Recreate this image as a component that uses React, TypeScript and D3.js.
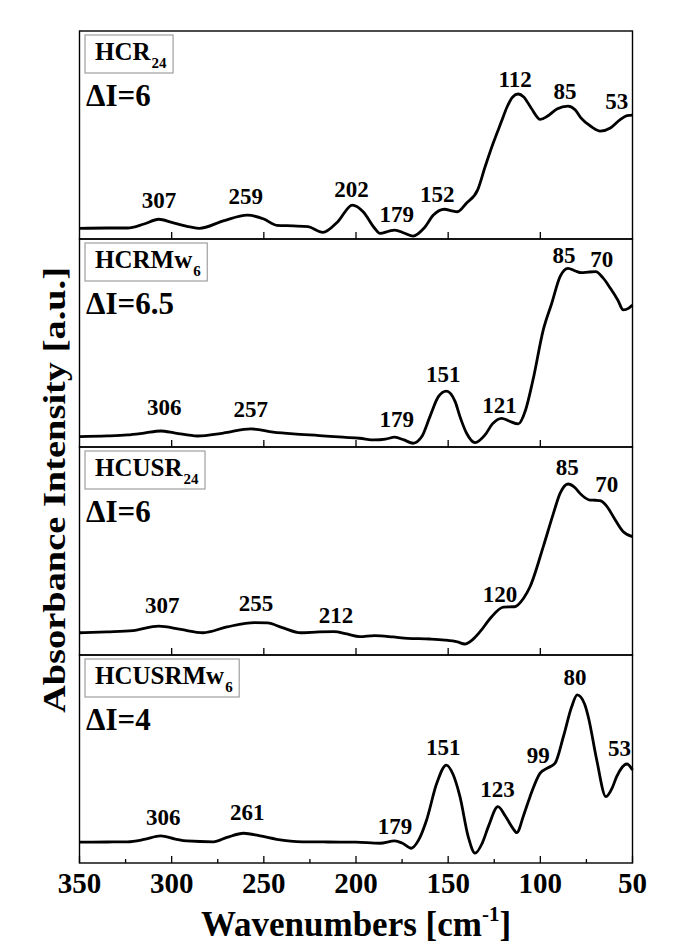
import React, { useEffect, useRef } from "react";
import * as d3 from "d3";

const WIDTH = 673;
const HEIGHT = 947;
const FONT = "'Liberation Serif', 'Times New Roman', Times, serif";

// Wavenumber axis (cm-1), drawn high to low
const majorTicks = [350, 300, 250, 200, 150, 100, 50];
const minorTicks = [325, 275, 225, 175, 125, 75];

type Pt = [number, number];
type Peak = [string, number, number]; // label, wavenumber, label height (a.u.)

// Far-IR absorbance spectra: [wavenumber, intensity a.u.]
const hcr24: Pt[] = [
  [350, 0.51], [335, 0.53], [324, 0.53], [315, 0.72], [307, 0.95], [300, 0.8], [290, 0.58],
  [285, 0.51], [272, 0.87], [259, 1.15], [250, 0.96], [243, 0.66], [234, 0.63], [226, 0.59],
  [218, 0.32], [210, 0.82], [202, 1.63], [196, 1.3], [190, 0.53], [187, 0.27], [182, 0.38],
  [179, 0.43], [174, 0.29], [169, 0.14], [163, 0.53], [158, 1.15], [152, 1.43], [148, 1.35],
  [145, 1.31], [140, 1.73], [134, 2.36], [130, 3.46], [125.6, 4.6], [121, 5.67], [118, 6.36],
  [115, 6.83], [112, 6.97], [109, 6.83], [105, 6.3], [100, 5.75], [96, 5.91], [91, 6.25],
  [85, 6.39], [81, 6.2], [78, 5.82], [72, 5.38], [67.6, 5.19], [62, 5.34], [57, 5.72],
  [53, 5.93], [50, 5.96],
];
const hcrMw6: Pt[] = [
  [350, 0.5], [335, 0.53], [324, 0.58], [315, 0.67], [306, 0.77], [298, 0.67], [286, 0.53],
  [272, 0.67], [257, 0.87], [245, 0.72], [234, 0.63], [220, 0.55], [207, 0.47], [198, 0.42],
  [190, 0.34], [184, 0.38], [179, 0.47], [174, 0.34], [169, 0.18], [164.3, 0.5], [159.9, 1.46],
  [155.3, 2.42], [151, 2.69], [146.2, 2.18], [143.6, 1.46], [140, 0.66], [135.4, 0.21],
  [130, 0.58], [126, 1.11], [121, 1.38], [117, 1.25], [112, 1.11], [108, 1.78], [104, 3.22],
  [98.4, 5.63], [93.8, 6.91], [89.3, 8.19], [85, 8.59], [81, 8.46], [77.6, 8.38], [74, 8.41],
  [70, 8.43], [66, 8.13], [62, 7.63], [58, 7.07], [55, 6.59], [52, 6.68], [50, 6.83],
];
const hcusr24: Pt[] = [
  [350, 1.07], [335, 1.11], [321, 1.17], [307, 1.39], [295, 1.23], [283, 1.07], [270, 1.35],
  [255, 1.56], [248, 1.54], [240, 1.32], [230, 1.07], [220, 1.11], [212, 1.12], [205, 1.01],
  [198, 0.88], [190, 0.93], [180, 0.87], [172, 0.8], [160, 0.77], [152, 0.72], [145, 0.63],
  [141, 0.53], [137, 0.72], [132.7, 1.12], [127, 1.78], [120, 2.3], [114, 2.32], [109, 2.74],
  [105.6, 3.28], [98.4, 5.21], [92.9, 6.81], [89.3, 7.77], [85, 8.22], [81, 8.03],
  [78.5, 7.77], [73.1, 7.45], [70, 7.44], [67.6, 7.42], [64, 7.16], [60.4, 6.65], [55, 5.93],
  [50, 5.69],
];
const hcusrMw6: Pt[] = [
  [350, 1.0], [335, 1.01], [324, 1.02], [315, 1.13], [306, 1.3], [298, 1.15], [291.8, 1.06],
  [277.4, 1.02], [270, 1.23], [261, 1.43], [252, 1.3], [243, 1.14], [229, 1.02], [215, 1.01],
  [200, 1.0], [187, 0.95], [179, 1.06], [175, 0.96], [170, 0.71], [166, 1.11], [161.7, 2.07],
  [156.2, 3.83], [151, 4.71], [147.2, 4.23], [143.6, 3.19], [139.1, 1.26], [135.4, 0.47],
  [131.5, 0.96], [128.2, 1.75], [123, 2.71], [119, 2.26], [115, 1.68], [112.8, 1.46],
  [109, 2.31], [105.6, 3.19], [100.2, 4.31], [96, 4.57], [92, 4.8], [87.5, 6.07], [83, 7.51],
  [80, 8.08], [76, 7.64], [74, 7.03], [69.4, 4.95], [64.4, 3.19], [61, 3.61], [58.6, 4.15],
  [53, 4.76], [50, 4.47],
];

// Peak annotations
const hcr24Peaks: Peak[] = [
  ["307", 306.9, 1.49], ["259", 259.8, 1.68], ["202", 202.4, 2.03], ["179", 177.9, 0.83],
  ["152", 155.9, 1.79], ["112", 113.7, 7.29], ["85", 86.6, 6.72], ["53", 58.6, 6.24],
];
const hcrMw6Peaks: Peak[] = [
  ["306", 304, 1.54], ["257", 257.1, 1.46], ["179", 177.9, 0.98], ["151", 152.6, 3.14],
  ["121", 122.2, 1.65], ["85", 87.2, 8.83], ["70", 66.7, 8.64],
];
const hcusr24Peaks: Peak[] = [
  ["307", 305.1, 2.03], ["255", 254.2, 2.13], ["212", 210.8, 1.55], ["120", 121.9, 2.56],
  ["85", 85.4, 8.65], ["70", 64, 7.85],
];
const hcusrMw6Peaks: Peak[] = [
  ["306", 304.5, 1.83], ["261", 259, 2.07], ["179", 178.8, 1.39], ["151", 152.6, 5.19],
  ["123", 123.3, 3.19], ["99", 101.1, 4.82], ["80", 81.2, 8.56], ["53", 57.1, 5.14],
];

const sampleNames = ["HCR", "HCRMw", "HCUSR", "HCUSRMw"];
const sampleSubs = ["24", "6", "24", "6"];
const deltaLabels = ["ΔI=6", "ΔI=6.5", "ΔI=6", "ΔI=4"];
const spectra = [hcr24, hcrMw6, hcusr24, hcusrMw6];
const peakSets = [hcr24Peaks, hcrMw6Peaks, hcusr24Peaks, hcusrMw6Peaks];

export default function App() {
  const ref = useRef<SVGSVGElement | null>(null);

  useEffect(() => {
    const svg = d3.select(ref.current);
    svg.selectAll("*").remove();

    const left = 79.5;
    const right = 632.5;
    const top = 31;
    const panelH = 208;

    const x = d3.scaleLinear().domain([350, 50]).range([left, right]);

    spectra.forEach((data, i) => {
      const pTop = top + i * panelH;
      const pBottom = pTop + panelH;
      const y = d3.scaleLinear().domain([0, 10]).range([pBottom, pTop]);
      const g = svg.append("g");

      // frame
      g.append("rect")
        .attr("x", left)
        .attr("y", pTop)
        .attr("width", right - left)
        .attr("height", panelH)
        .attr("fill", "none")
        .attr("stroke", "#000")
        .attr("stroke-width", 1.4);

      // inward ticks on the lower edge
      const isLast = i === spectra.length - 1;
      const majors = isLast ? majorTicks : majorTicks.slice(1, -1);
      g.selectAll(".maj")
        .data(majors)
        .join("line")
        .attr("x1", (d) => x(d))
        .attr("x2", (d) => x(d))
        .attr("y1", pBottom)
        .attr("y2", pBottom - 7)
        .attr("stroke", "#000")
        .attr("stroke-width", 1.3);
      if (isLast) {
        g.selectAll(".min")
          .data(minorTicks)
          .join("line")
          .attr("x1", (d) => x(d))
          .attr("x2", (d) => x(d))
          .attr("y1", pBottom)
          .attr("y2", pBottom - 4)
          .attr("stroke", "#000")
          .attr("stroke-width", 1.3);
      }

      // spectrum
      const line = d3
        .line<Pt>()
        .x((d) => x(d[0]))
        .y((d) => y(d[1]))
        .curve(d3.curveMonotoneX);
      g.append("path")
        .attr("d", line(data) || "")
        .attr("fill", "none")
        .attr("stroke", "#000")
        .attr("stroke-width", 2.8)
        .attr("stroke-linejoin", "round");

      // peak positions
      g.selectAll(".peak")
        .data(peakSets[i])
        .join("text")
        .attr("x", (d) => x(d[1]))
        .attr("y", (d) => y(d[2]))
        .attr("text-anchor", "middle")
        .attr("font-family", FONT)
        .attr("font-weight", "bold")
        .attr("font-size", 23)
        .attr("fill", "#000")
        .text((d) => d[0]);

      // sample name box
      const nameText = g
        .append("text")
        .attr("x", 95)
        .attr("y", pTop + 29)
        .attr("font-family", FONT)
        .attr("font-weight", "bold")
        .attr("font-size", 25)
        .attr("fill", "#000");
      nameText.append("tspan").text(sampleNames[i]);
      nameText
        .append("tspan")
        .attr("font-size", 15)
        .attr("dx", 1)
        .attr("dy", 8)
        .text(sampleSubs[i]);
      const bb = (nameText.node() as SVGTextElement).getBBox();
      g.insert("rect", "text")
        .attr("x", 85)
        .attr("y", pTop + 4)
        .attr("width", bb.x + bb.width + 6 - 85)
        .attr("height", 38)
        .attr("fill", "#fff")
        .attr("stroke", "#8c8c8c")
        .attr("stroke-width", 1);

      // intensity difference label
      g.append("text")
        .attr("x", 86)
        .attr("y", pTop + 75)
        .attr("font-family", FONT)
        .attr("font-weight", "bold")
        .attr("font-size", 31)
        .attr("fill", "#000")
        .text(deltaLabels[i]);
    });

    // x tick labels
    svg
      .append("g")
      .selectAll("text")
      .data(majorTicks)
      .join("text")
      .attr("x", (d) => x(d))
      .attr("y", 893)
      .attr("text-anchor", "middle")
      .attr("font-family", FONT)
      .attr("font-weight", "bold")
      .attr("font-size", 29)
      .attr("fill", "#000")
      .text((d) => String(d));

    // x axis title
    const xt = svg
      .append("text")
      .attr("x", (left + right) / 2)
      .attr("y", 936)
      .attr("text-anchor", "middle")
      .attr("font-family", FONT)
      .attr("font-weight", "bold")
      .attr("font-size", 35)
      .attr("fill", "#000");
    xt.append("tspan").text("Wavenumbers [cm");
    xt.append("tspan").attr("font-size", 21).attr("dy", -15).text("-1");
    xt.append("tspan").attr("dy", 15).text("]");

    // y axis title
    svg
      .append("text")
      .attr("transform", "translate(65,490) rotate(-90)")
      .attr("text-anchor", "middle")
      .attr("font-family", FONT)
      .attr("font-weight", "bold")
      .attr("font-size", 32)
      .attr("textLength", 446)
      .attr("lengthAdjust", "spacingAndGlyphs")
      .attr("fill", "#000")
      .text("Absorbance Intensity [a.u.]");
  }, []);

  return (
    <svg
      ref={ref}
      width={WIDTH}
      height={HEIGHT}
      style={{ position: "absolute", left: 0, top: 0, background: "#fff" }}
    />
  );
}
